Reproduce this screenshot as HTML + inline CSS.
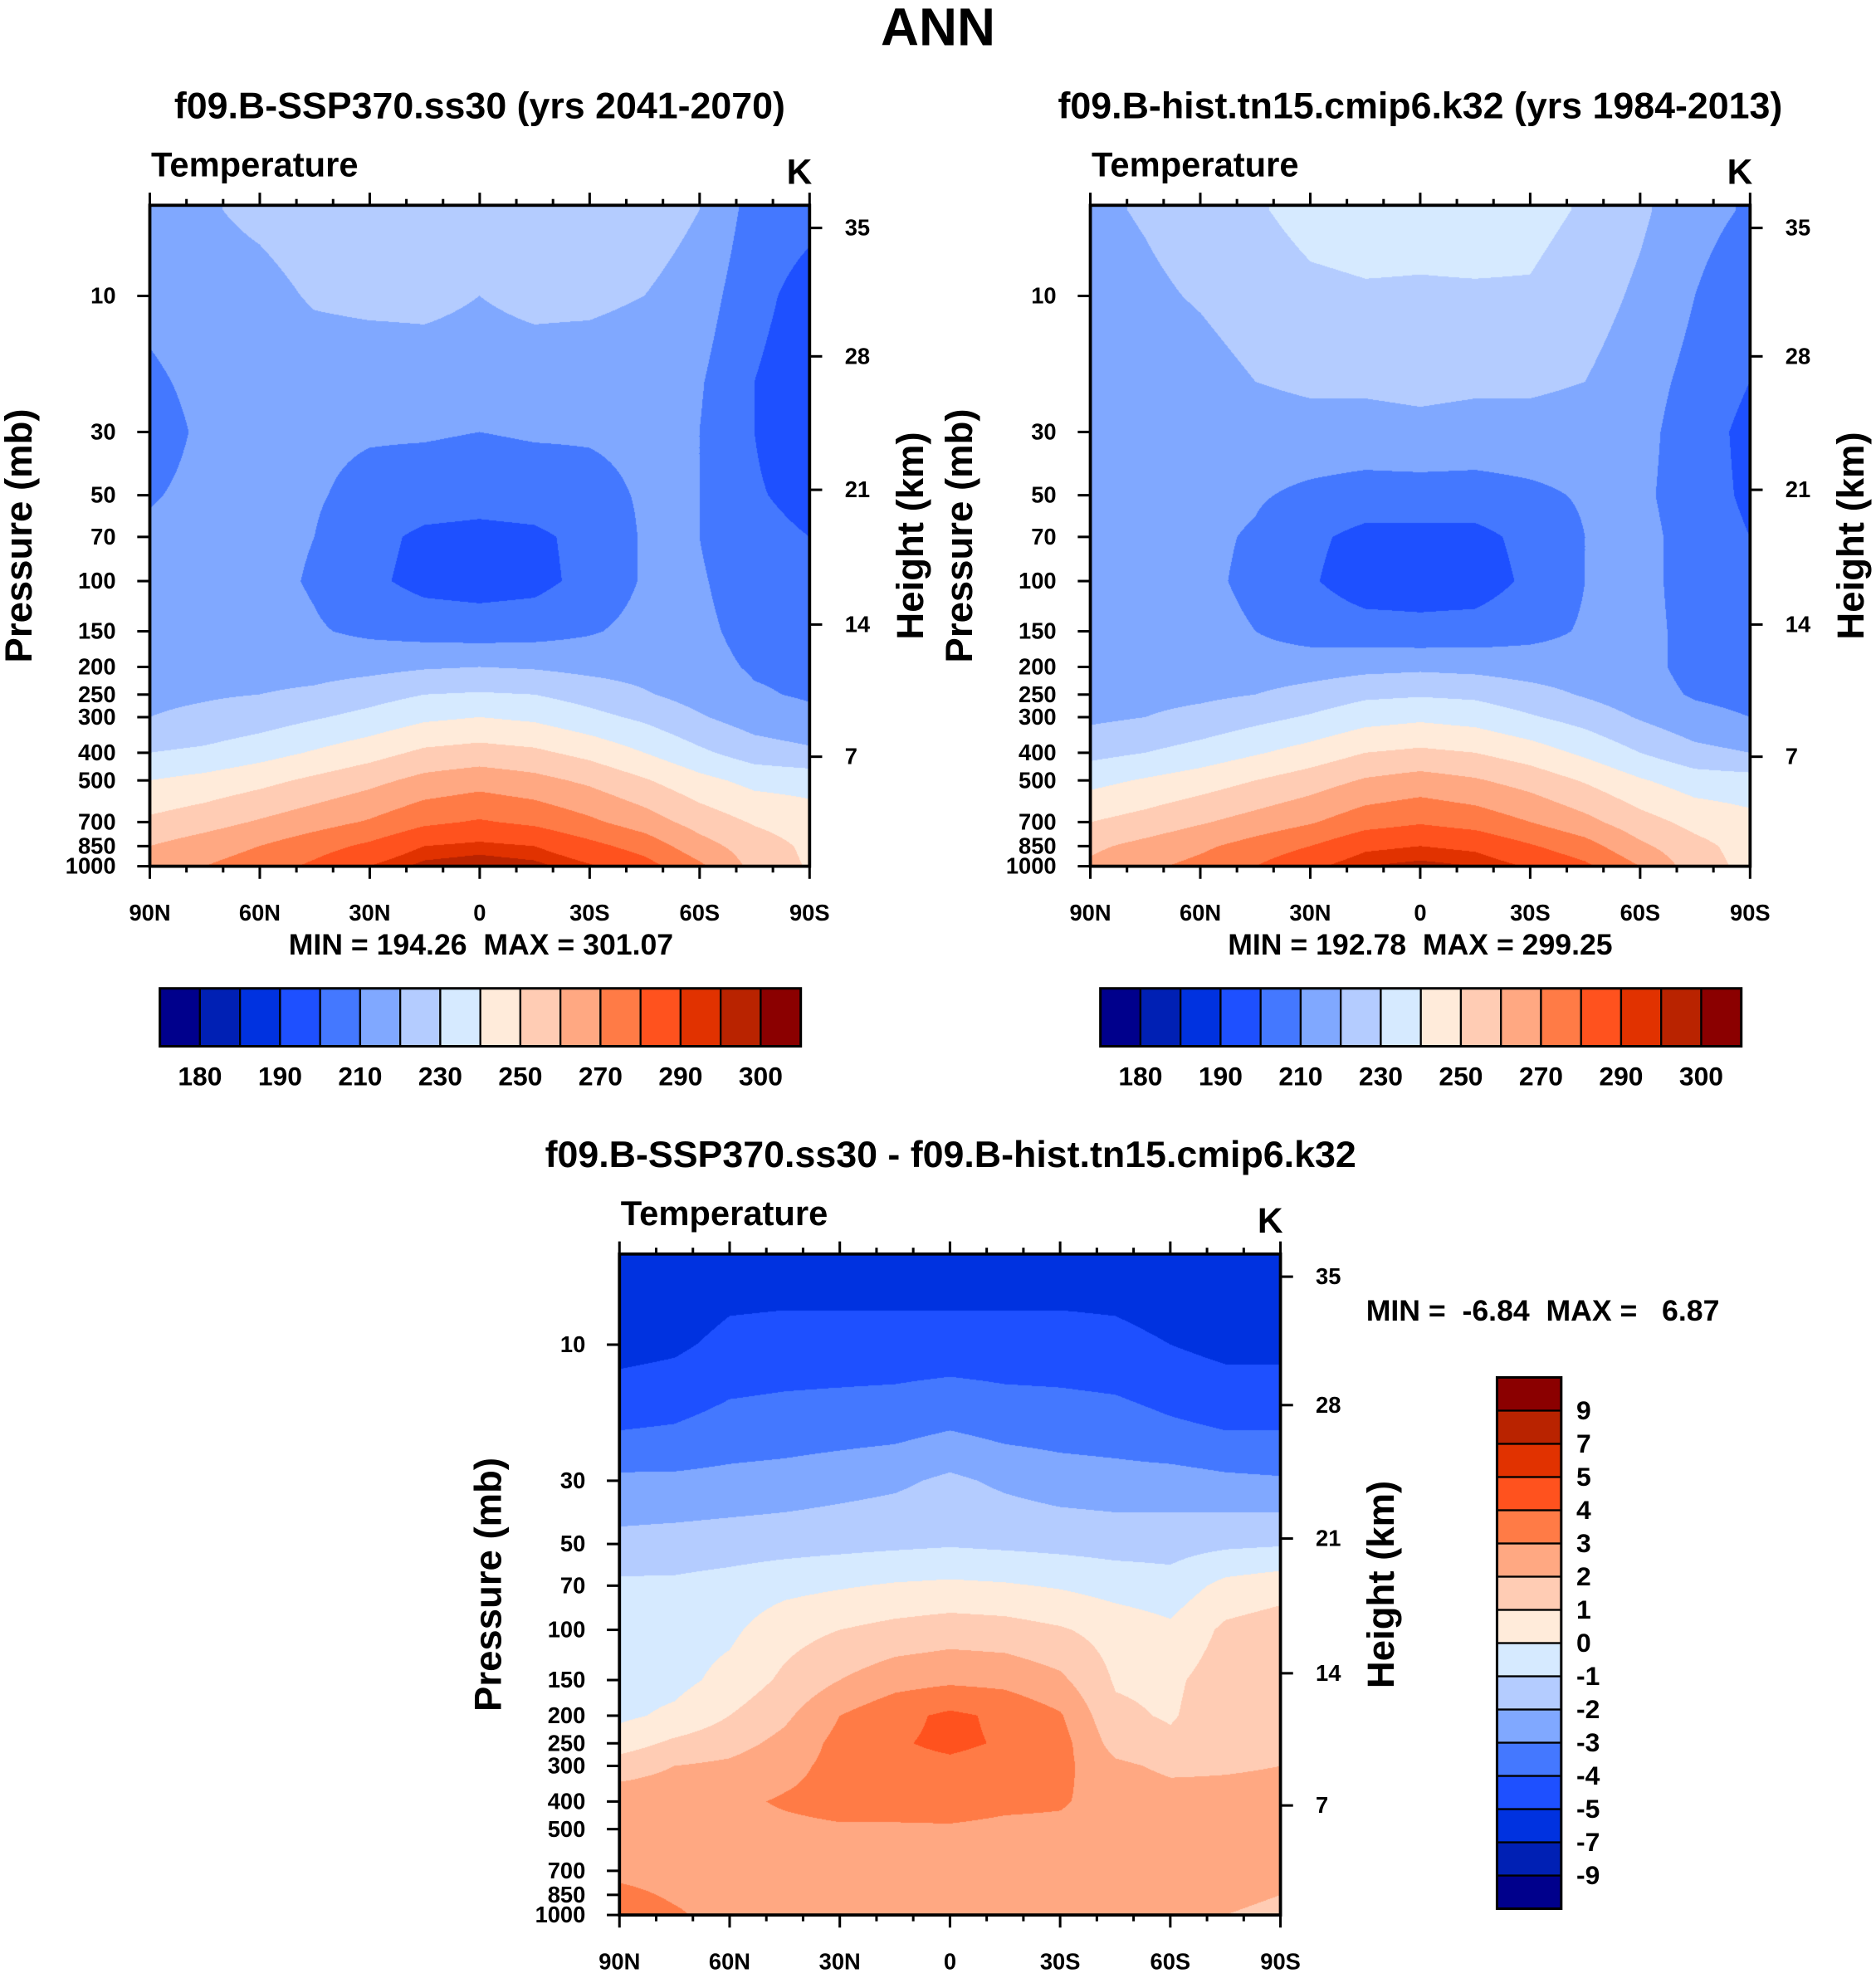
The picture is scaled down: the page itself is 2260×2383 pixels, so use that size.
<!DOCTYPE html>
<html><head><meta charset="utf-8"><style>
html,body{margin:0;padding:0;background:#fff;}
#root{position:relative;width:2260px;height:2383px;overflow:hidden;}
canvas{position:absolute;}
svg{position:absolute;left:0;top:0;}
text{font-family:"Liberation Sans",sans-serif;font-weight:bold;fill:#000;}
</style></head><body>
<div id="root">
<canvas id="c1"></canvas>
<canvas id="c2"></canvas>
<canvas id="c3"></canvas>
<svg id="ov" width="2260" height="2383" viewBox="0 0 1490 1571"></svg>
</div>
<script>
// ---- data ----
const pLevels = [5,10,20,30,50,70,100,150,200,250,300,400,500,700,850,1000];
const lats = ["90N","75N","60N","45N","30N","15N","0","15S","30S","45S","60S","75S","90S"];
const tempLevels = [180,185,190,200,210,220,230,240,250,260,270,280,290,295,300];
const tempLabels = ["180","190","210","230","250","270","290","300"];
const diffLevels = [-9,-7,-5,-4,-3,-2,-1,0,1,2,3,4,5,7,9];
const diffLabels = ["-9","-7","-5","-4","-3","-2","-1","0","1","2","3","4","5","7","9"];
const pressureTicks = [10,30,50,70,100,150,200,250,300,400,500,700,850,1000];
const heightTicks = [35,28,21,14,7];
const latTicks = ["90N","60N","30N","0","30S","60S","90S"];
const tempSSP = [
[214,213,208,205,209,212,214,215,216,218,220,230,240,252,260,265],
[219,216,213,212,213,214,215,216,217,219,222,232,243,256,265,270],
[222,217,214,213,213,213,213,214,216,220,225,236,247,261,270,275],
[225,221,215,212,211,210,209,211,216,222,229,241,252,266,276,282],
[226,222,215,211,207,203,202,208,217,226,233,246,257,271,282,290],
[226,222,216,211,205,198,197,206,219,230,238,252,263,278,290,297],
[226,220,216,210,204,197,196,205,220,231,240,254,266,281,292,299],
[226,222,216,211,205,198,197,206,219,230,238,252,263,278,290,297],
[228,222,215,211,207,203,203,209,217,226,233,247,258,272,283,291],
[226,220,214,212,211,211,211,213,216,221,228,240,251,265,276,284],
[220,215,211,210,210,210,211,212,213,216,221,232,243,256,264,272],
[206,203,200,200,201,203,205,207,209,211,215,225,237,249,255,257],
[203,196,194,193,197,200,203,206,208,209,212,222,236,245,248,249]];
const tempHist = [
[218,215,213,212,213,214,215,215,215,216,218,227,237,250,258,262],
[221,218,214,213,213,213,214,215,215,217,220,230,241,254,263,268],
[225,221,216,214,213,212,212,213,214,218,223,234,245,259,268,273],
[229,225,220,215,211,209,208,210,214,220,227,239,250,264,274,280],
[233,228,222,216,208,202,201,206,215,224,231,244,255,269,280,288],
[234,229,222,216,206,197,195,204,217,228,236,250,261,276,288,295],
[233,229,223,217,206,197,195,203,218,229,238,252,264,279,290,297],
[234,229,222,216,206,197,195,204,217,228,236,250,261,276,288,295],
[233,229,222,216,208,203,202,207,215,224,231,245,256,270,281,289],
[229,225,220,215,211,210,210,211,214,219,226,238,249,263,274,282],
[222,218,214,213,212,213,213,213,213,214,219,230,241,254,262,270],
[213,210,207,205,205,206,206,207,207,209,213,223,235,247,253,255],
[209,204,200,197,198,200,203,205,206,207,210,220,234,243,246,247]];
const tempDiff = [
[-6.2,-5.4,-4.0,-2.8,-1.7,-0.8,-0.5,-0.4,-0.2,0.5,1.5,2.6,2.8,2.8,3.2,3.5],
[-6.0,-5.2,-3.9,-2.8,-1.6,-0.8,-0.4,-0.3,0.2,1.2,2.0,2.6,2.7,2.7,2.9,3.1],
[-5.6,-4.7,-3.6,-2.7,-1.5,-0.6,-0.2,0.3,1.0,1.6,2.2,2.8,2.7,2.6,2.8,2.7],
[-5.6,-4.6,-3.5,-2.6,-1.4,-0.3,0.6,1.2,1.8,2.3,2.7,3.1,2.8,2.5,2.5,2.5],
[-5.6,-4.6,-3.4,-2.4,-1.3,-0.1,1.0,2.0,3.0,3.3,3.3,3.3,2.9,2.5,2.4,2.4],
[-5.6,-4.6,-3.3,-2.2,-1.2,0.1,1.3,2.6,3.7,3.9,3.7,3.3,2.9,2.6,2.4,2.4],
[-5.6,-4.6,-3.0,-1.8,-1.1,0.2,1.5,2.8,4.2,4.2,3.8,3.4,2.9,2.6,2.4,2.4],
[-5.6,-4.6,-3.3,-2.2,-1.2,0.1,1.4,2.7,3.8,3.9,3.6,3.2,2.8,2.6,2.4,2.4],
[-5.6,-4.6,-3.4,-2.5,-1.3,-0.1,1.1,2.2,3.1,3.4,3.3,3.1,2.8,2.5,2.4,2.4],
[-5.6,-4.7,-3.5,-2.6,-1.4,-0.4,0.6,0.9,1.2,1.6,2.2,2.6,2.6,2.4,2.3,2.3],
[-5.8,-5.0,-3.8,-2.6,-1.4,-0.6,0.2,0.8,0.9,1.2,1.8,2.4,2.4,2.3,2.2,2.1],
[-6.0,-5.3,-4.0,-2.8,-1.2,0.3,1.2,1.5,1.6,1.7,1.9,2.3,2.3,2.2,2.1,2.0],
[-6.0,-5.3,-4.0,-2.9,-1.1,0.6,1.5,1.7,1.8,1.9,2.0,2.3,2.3,2.2,2.0,1.9]];
const palette = ["#00008c","#0020b4","#0032e0","#1e50ff","#4478ff","#80a8ff","#b4ccff","#d6eaff","#ffebda","#ffccb4","#ffa882","#ff7b46","#ff521e","#e13200","#b92300","#8b0000"];

const S = 2260/1490;
const panels = [
 {id:"c1",name:"ssp370",data:tempSSP,lev:tempLevels,x0:119,x1:643,y0:163,y1:688},
 {id:"c2",name:"hist",data:tempHist,lev:tempLevels,x0:866,x1:1390,y0:163,y1:688},
 {id:"c3",name:"diff",data:tempDiff,lev:diffLevels,x0:492,x1:1017,y0:996,y1:1521}];
const DEC = 226.5;
function yOfP(pn,p){return pn.y1-(3-Math.log10(p))*DEC;}
function xOfLat(pn,deg){return pn.x0+(deg+90)/180*(pn.x1-pn.x0);}
const logP = pLevels.map(p=>Math.log10(p));
function sample(data,fx,lp){
  let i=Math.max(0,Math.min(lats.length-1.0001,fx)); let i0=Math.floor(i),ti=i-i0;
  let j=0; if(lp<=logP[0]){j=0;lp=logP[0];} else if(lp>=logP[logP.length-1]){j=logP.length-2;lp=logP[logP.length-1];}
  else {while(logP[j+1]<lp)j++;}
  let tj=(lp-logP[j])/(logP[j+1]-logP[j]);
  const a=data[i0][j],b=data[i0][j+1],c=data[i0+1][j],d=data[i0+1][j+1];
  return (a*(1-tj)+b*tj)*(1-ti)+(c*(1-tj)+d*tj)*ti;
}
const rgb = palette.map(h=>[parseInt(h.slice(1,3),16),parseInt(h.slice(3,5),16),parseInt(h.slice(5,7),16)]);
panels.forEach(pn=>{
  const cv=document.getElementById(pn.id);
  const L=Math.round(pn.x0*S),T=Math.round(pn.y0*S);
  const W=Math.round(pn.x1*S)-L,H=Math.round(pn.y1*S)-T;
  cv.width=W;cv.height=H;cv.style.left=L+"px";cv.style.top=T+"px";
  const ctx=cv.getContext("2d");const img=ctx.createImageData(W,H);
  for(let y=0;y<H;y++){
    const yd=(T+y+0.5)/S; const lp=3-(pn.y1-yd)/DEC;
    for(let x=0;x<W;x++){
      const fx=(x+0.5)/W*(lats.length-1);
      const v=sample(pn.data,fx,lp);
      let k=0;while(k<pn.lev.length&&v>=pn.lev[k])k++;
      const c=rgb[k],o=(y*W+x)*4;img.data[o]=c[0];img.data[o+1]=c[1];img.data[o+2]=c[2];img.data[o+3]=255;
    }
  }
  ctx.putImageData(img,0,0);
});

// ---- overlay ----
const NS="http://www.w3.org/2000/svg";const svg=document.getElementById("ov");
function el(tag,attrs,parent){const e=document.createElementNS(NS,tag);for(const k in attrs)e.setAttribute(k,attrs[k]);(parent||svg).appendChild(e);return e;}
function txt(s,x,y,size,anchor,parent,rot){const t=el("text",{x:x,y:y,"font-size":size,"text-anchor":anchor||"start"},parent);if(rot)t.setAttribute("transform","rotate(-90 "+x+" "+y+")");t.textContent=s;return t;}

let t=txt("ANN",745,36,42,"middle");


const titles=["f09.B-SSP370.ss30 (yrs 2041-2070)","f09.B-hist.tn15.cmip6.k32 (yrs 1984-2013)","f09.B-SSP370.ss30 - f09.B-hist.tn15.cmip6.k32"];
const heightOff=[18,120,226,333,438];
panels.forEach((pn,idx)=>{
  const g=el("g",{});
  
  
  const cx=(pn.x0+pn.x1)/2;
  let e=txt(titles[idx],idx==2?755:cx,pn.y0-69,29.5,"middle",g);
  
  
  e=txt("Temperature",pn.x0+1,pn.y0-23,27.5,"start",g);
  
  
  e=txt("K",pn.x1+2,pn.y0-17,28,"end",g);
  
  
  e=el("rect",{x:pn.x0,y:pn.y0,width:pn.x1-pn.x0,height:pn.y1-pn.y0,fill:"none",stroke:"#000","stroke-width":2.5},g);
  
  
  for(let d=-90;d<=90;d+=10){
    const x=xOfLat(pn,d);const maj=(d%30===0);const len=maj?10:5;
    el("line",{x1:x,x2:x,y1:pn.y0,y2:pn.y0-len,stroke:"#000","stroke-width":2},g);
    el("line",{x1:x,x2:x,y1:pn.y1,y2:pn.y1+len,stroke:"#000","stroke-width":2},g);
  }
  latTicks.forEach((s,i)=>{const x=xOfLat(pn,-90+30*i);e=txt(s,x,pn.y1+43,18,"middle",g);
    
    });
  pressureTicks.forEach(p=>{const y=yOfP(pn,p);
    el("line",{x1:pn.x0,x2:pn.x0-10,y1:y,y2:y,stroke:"#000","stroke-width":2},g);
    e=txt(String(p),pn.x0-27,y+6,18,"end",g);
    
    });
  heightTicks.forEach((h,i)=>{const y=pn.y0+heightOff[i];
    el("line",{x1:pn.x1,x2:pn.x1+10,y1:y,y2:y,stroke:"#000","stroke-width":2},g);
    e=txt(String(h),pn.x1+28,y+6,18,"start",g);
    
    });
  const my=(pn.y0+pn.y1)/2;
  e=txt("Pressure (mb)",pn.x0-94,my,30,"middle",g,true);
  
  
  e=txt("Height (km)",pn.x1+90,my,30,"middle",g,true);
  
  
});
const mm=[["MIN = 194.26  MAX = 301.07",382,758,"middle"],["MIN = 192.78  MAX = 299.25",1128,758,"middle"],["MIN =  -6.84  MAX =   6.87",1085,1049,"start"]];
mm.forEach(m=>{const e=txt(m[0],m[1],m[2],23.5,m[3]);e.setAttribute("xml:space","preserve");e.style.whiteSpace="pre";
  
  });
[127,874].forEach((bx,bi)=>{
  const g=el("g",{});
  
  
  const w=(636-127)/palette.length;
  palette.forEach((c,i)=>{el("rect",{x:bx+i*w,y:785,width:w,height:46,fill:c,stroke:"#000","stroke-width":1.5},g);});
  el("rect",{x:bx,y:785,width:w*16,height:46,fill:"none",stroke:"#000","stroke-width":2},g);
  tempLabels.forEach((s,i)=>{const e=txt(s,bx+(2*i+1)*w,862,21,"middle",g);
    
    });
});
{
  const g=el("g",{});
  
  
  const h=(1516-1094)/palette.length;
  palette.forEach((c,i)=>{el("rect",{x:1189,y:1516-(i+1)*h,width:51,height:h,fill:c,stroke:"#000","stroke-width":1.5},g);});
  el("rect",{x:1189,y:1094,width:51,height:h*16,fill:"none",stroke:"#000","stroke-width":2},g);
  diffLabels.forEach((s,i)=>{const e=txt(s,1252,1516-(i+1)*h+7,21,"start",g);
    
    });
}
</script>
</body></html>
